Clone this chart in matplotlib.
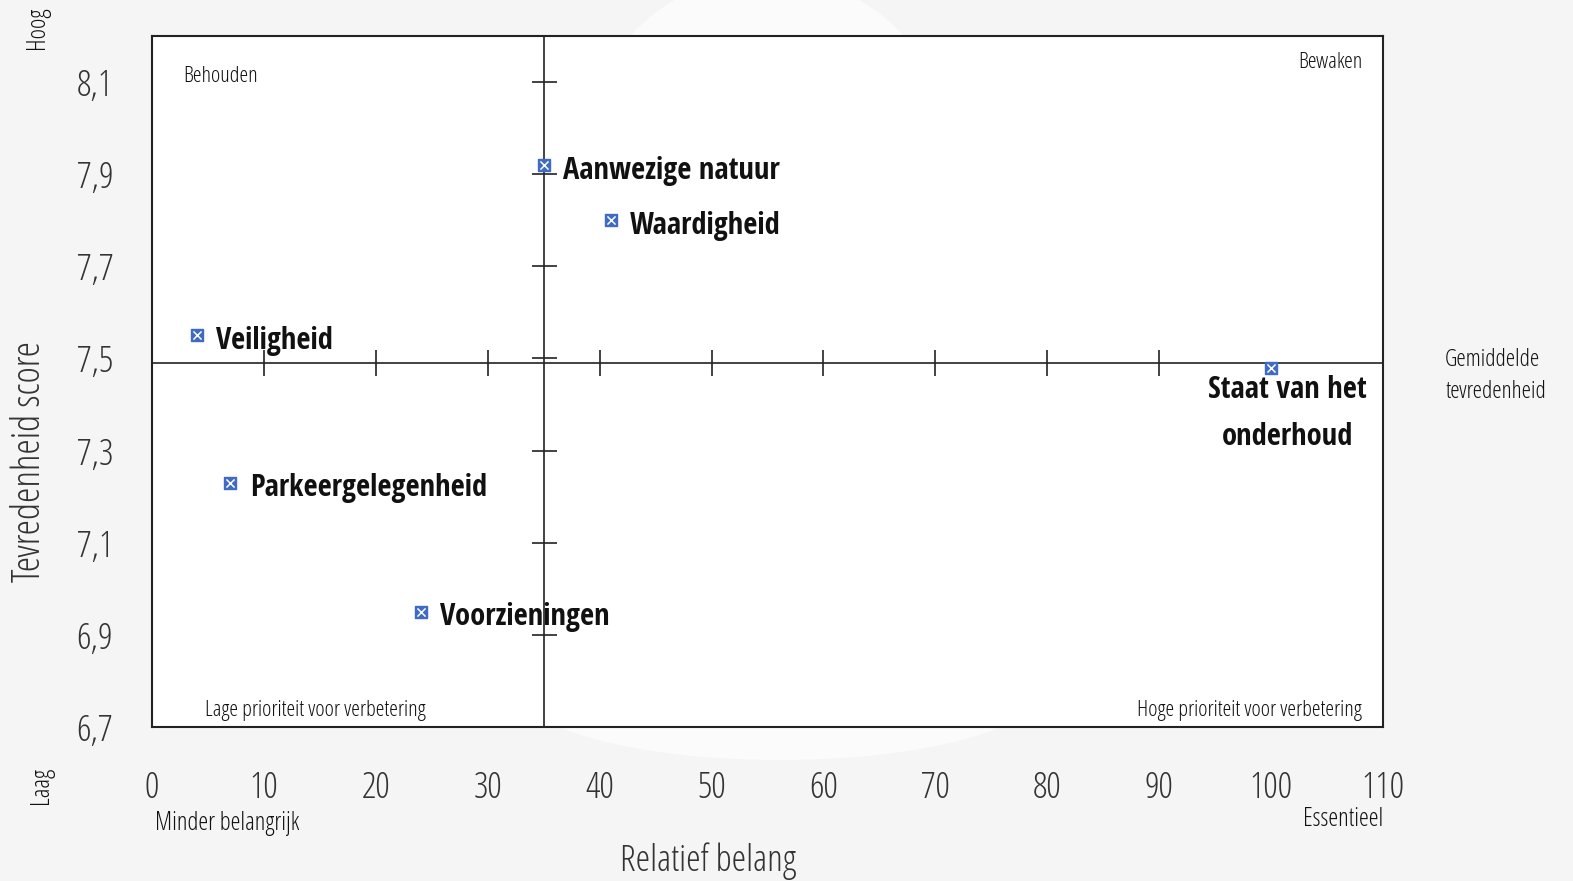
import matplotlib.pyplot as plt
from matplotlib import font_manager
from matplotlib.font_manager import FontProperties
from matplotlib.patches import Circle, Ellipse

# data
labels = ["Aanwezige natuur", "Waardigheid", "Veiligheid",
          "Staat van het\nonderhoud", "Parkeergelegenheid", "Voorzieningen"]
belang = [35, 41, 4, 100, 7, 24]
tevredenheid = [7.92, 7.80, 7.55, 7.48, 7.23, 6.95]
gem_belang = 35
gem_tevredenheid = 7.49

x_ticks = [0, 10, 20, 30, 40, 50, 60, 70, 80, 90, 100, 110]
y_ticks = [6.7, 6.9, 7.1, 7.3, 7.5, 7.7, 7.9, 8.1]
y_tick_labels = ["6,7", "6,9", "7,1", "7,3", "7,5", "7,7", "7,9", "8,1"]


def font_file(name):
    for f in font_manager.fontManager.ttflist:
        if f.fname.endswith(name):
            return f.fname
    return None


def fp(size, bold=False):
    path = font_file("OpenSans-CondBold.ttf" if bold else "OpenSans-CondLight.ttf")
    if path:
        return FontProperties(fname=path, size=size)
    return FontProperties(family="DejaVu Sans", stretch="condensed",
                          weight="bold" if bold else "normal", size=size)


BG = "#f5f5f5"
TXT = "#333333"
BLUE = "#3f6cc2"

fig = plt.figure(figsize=(15.73, 8.81), dpi=100, facecolor=BG)

# faint watermark shapes behind the plot (pixel coordinates)
bg = fig.add_axes([0, 0, 1, 1], zorder=-1)
bg.set_xlim(0, 1573)
bg.set_ylim(881, 0)
bg.axis("off")
bg.add_patch(Circle((767, 159), 184, color="#fbfbfb", lw=0))
bg.add_patch(Ellipse((780, 690), 520, 140, color="#fbfbfb", lw=0))

ax = fig.add_axes([152 / 1573, 1 - 727 / 881, (1383 - 152) / 1573, (727 - 36) / 881])
ax.set_facecolor("white")
ax.set_xlim(0, 110)
ax.set_ylim(6.7, 8.2)
for sp in ax.spines.values():
    sp.set_linewidth(1.5)
    sp.set_color("#222222")

# crosshair through the averages
ax.axhline(gem_tevredenheid, color="#222222", lw=1.2, zorder=2)
ax.axvline(gem_belang, color="#222222", lw=1.2, zorder=2)
inner_x = [t for t in x_ticks if 0 < t < 100]
ax.plot(inner_x, [gem_tevredenheid] * len(inner_x), ls="none", marker="|",
        ms=19, mew=1.2, color="#222222", zorder=2)
inner_y = [t for t in y_ticks if t > 6.7]
ax.plot([gem_belang] * len(inner_y), inner_y, ls="none", marker="_",
        ms=18, mew=1.2, color="#222222", zorder=2)

ax.set_xticks(x_ticks)
ax.set_xticklabels([str(t) for t in x_ticks], fontproperties=fp(26))
ax.set_yticks(y_ticks)
ax.set_yticklabels(y_tick_labels, fontproperties=fp(26))
ax.tick_params(axis="x", length=0, colors=TXT, pad=31)
ax.tick_params(axis="y", length=0, colors=TXT, pad=28)

# points
ax.scatter(belang, tevredenheid, marker="s", s=72, color=BLUE, zorder=4)
ax.scatter(belang, tevredenheid, marker="x", s=34, color="white", lw=1.1, zorder=5)

for lab, x, y in zip(labels, belang, tevredenheid):
    if "\n" in lab:
        ax.annotate(lab, (x, y), xytext=(12, -5), textcoords="offset points",
                    ha="center", va="top", fontproperties=fp(22, True),
                    color="#111111", linespacing=1.75, zorder=6)
    else:
        ax.annotate(lab, (x, y), xytext=(14, -4), textcoords="offset points",
                    ha="left", va="center", fontproperties=fp(22, True),
                    color="#111111", zorder=6)

# quadrant captions
ax.text(0.025, 0.941, "Behouden", transform=ax.transAxes, fontproperties=fp(16),
        color="#111111", va="center")
ax.text(0.983, 0.962, "Bewaken", transform=ax.transAxes, fontproperties=fp(16),
        color="#111111", va="center", ha="right")
ax.text(0.043, 0.024, "Lage prioriteit voor verbetering", transform=ax.transAxes,
        fontproperties=fp(16), color="#111111", va="center")
ax.text(0.983, 0.024, "Hoge prioriteit voor verbetering", transform=ax.transAxes,
        fontproperties=fp(16), color="#111111", va="center", ha="right")

# axis titles and extremes
fig.text(30 / 1573, 1 - 461 / 881, "Tevredenheid score", rotation=90, fontproperties=fp(28),
         color=TXT, ha="center", va="center")
fig.text(708 / 1573, 1 - 861 / 881, "Relatief belang", fontproperties=fp(26.5), color=TXT,
         ha="center", va="center")
fig.text(38 / 1573, 1 - 28 / 881, "Hoog", rotation=90, fontproperties=fp(18),
         color="#111111", ha="center", va="center")
fig.text(42 / 1573, 1 - 785 / 881, "Laag", rotation=90, fontproperties=fp(18),
         color="#111111", ha="center", va="center")
fig.text(155 / 1573, 1 - 823 / 881, "Minder belangrijk", fontproperties=fp(18),
         color="#111111", ha="left", va="center")
fig.text(1383 / 1573, 1 - 819 / 881, "Essentieel", fontproperties=fp(18),
         color="#111111", ha="right", va="center")
fig.text(1445 / 1573, 1 - 376 / 881, "Gemiddelde\ntevredenheid", fontproperties=fp(17),
         color="#111111", ha="left", va="center", linespacing=1.5)

fig.savefig("out.png", dpi=100, facecolor=BG)
